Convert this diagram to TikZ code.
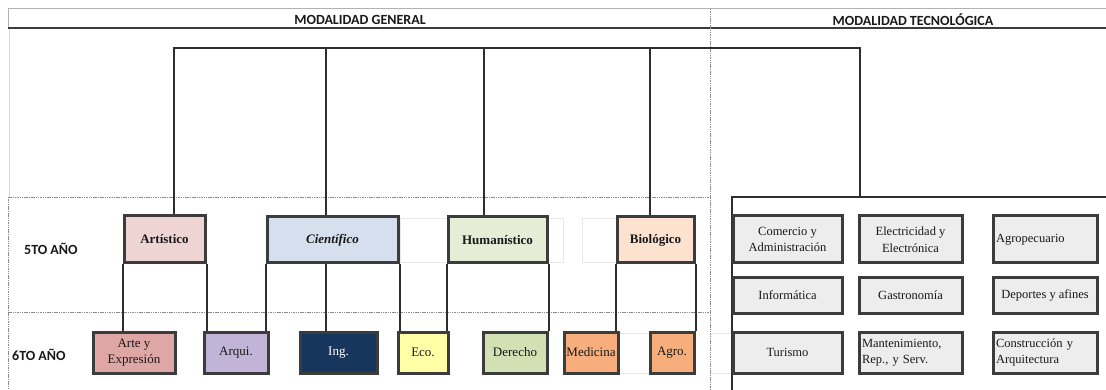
\documentclass[tikz,border=0pt]{standalone}
\usepackage{fontspec}
\setmainfont{Liberation Serif}
\newfontfamily\hdrfont{Carlito}
\definecolor{bordc}{HTML}{3C3C3C}
\definecolor{connc}{HTML}{2E2E2E}
\definecolor{cArt}{HTML}{EFD4D4}
\definecolor{cCie}{HTML}{D5DFEE}
\definecolor{cHum}{HTML}{E6EDD6}
\definecolor{cBio}{HTML}{FDE2D0}
\definecolor{cArte}{HTML}{DFA6A6}
\definecolor{cArq}{HTML}{C1B4D6}
\definecolor{cIng}{HTML}{17365D}
\definecolor{cEco}{HTML}{FFFFA8}
\definecolor{cDer}{HTML}{D3E0B3}
\definecolor{cMed}{HTML}{F6AF7C}
\definecolor{cTec}{HTML}{EDEDED}
\tikzset{
  boxg/.style={draw=bordc, line width=3pt, inner sep=0pt, align=center, text=black!90,
    font=\fontsize{13}{16.5}\selectfont},
  boxt/.style={draw=bordc, line width=3pt, inner sep=0pt, align=center, fill=cTec, text=black!90,
    font=\fontsize{12.5}{16.5}\selectfont},
  conn/.style={draw=connc, line width=2pt},
  topconn/.style={draw=connc, line width=2.4pt},
  faint/.style={draw=black!9, line width=0.6pt},
  grid/.style={draw=black!45, line width=0.7pt, dash pattern=on 1.5pt off 0.8pt},
  hdr/.style={font=\hdrfont\bfseries\fontsize{14}{16}\selectfont, text=black!90, inner sep=0pt},
  lbl/.style={font=\hdrfont\bfseries\fontsize{14}{16}\selectfont, text=black!90, anchor=west, inner sep=0pt}
}
\begin{document}
\begin{tikzpicture}[x=1pt,y=-1pt]
\useasboundingbox (0,0) rectangle (1106,390);
\fill[white] (0,0) rectangle (1106,390);

% header
\draw[draw=black!30, line width=1pt] (8,9) -- (1106,9);
\draw[draw=black!30, line width=1pt] (8,9) -- (8,28);
\draw[draw=black!15, line width=0.8pt] (9,28) -- (9,197);
\draw[draw=bordc, line width=2.6pt] (8,28) -- (1106,28);
\node[hdr] (hg) at (360,19.5) {MODALIDAD GENERAL};
\node[hdr] (ht) at (913,19.5) {MODALIDAD TECNOLÓGICA};

% grid lines
\draw[grid] (8,197) -- (710,197);
\draw[grid] (8,312) -- (710,312);
\draw[grid] (8,197) -- (8,390);
\draw[grid] (710.5,9) -- (710.5,390);

% faint cell outlines
\draw[faint] (400,218) rectangle (563,262);
\draw[faint] (582,218) rectangle (640,262);
\draw[faint] (564,333) rectangle (695,373);
\draw[faint] (712,333) -- (735,333);
\draw[faint] (712,373) -- (735,373);

% row labels
\node[lbl] (l5) at (24,249) {5TO AÑO};
\node[lbl] (l6) at (12,355) {6TO AÑO};

% 5to año boxes
\node[boxg, fill=cArt, minimum width=81pt, minimum height=47pt] (art) at (164.5,239.5) {\bfseries Artístico};
\node[boxg, fill=cCie, minimum width=131pt, minimum height=46pt] (cie) at (332.5,240) {\bfseries\itshape Científico};
\node[boxg, fill=cHum, minimum width=99pt, minimum height=46pt] (hum) at (497.5,240) {\bfseries Humanístico};
\node[boxg, fill=cBio, minimum width=77pt, minimum height=46pt] (bio) at (655.5,240) {\bfseries Biológico};

% 6to año boxes
\node[boxg, fill=cArte, minimum width=82pt, minimum height=41pt] (arte) at (134,352.5) {Arte y\\Expresión};
\node[boxg, fill=cArq, minimum width=64pt, minimum height=41pt] (arq) at (236,352.5) {Arqui.};
\node[boxg, fill=cIng, text=white, minimum width=77pt, minimum height=41pt] (ing) at (338.5,352.5) {Ing.};
\node[boxg, fill=cEco, minimum width=50pt, minimum height=41pt] (eco) at (423,352.5) {Eco.};
\node[boxg, fill=cDer, minimum width=64pt, minimum height=41pt] (der) at (515,352.5) {Derecho};
\node[boxg, fill=cMed, minimum width=54pt, minimum height=41pt] (med) at (591,352.5) {Medicina};
\node[boxg, fill=cMed, minimum width=44pt, minimum height=41pt] (agro) at (672,352.5) {Agro.};

% tree top
\coordinate (tA) at (174,48);
\coordinate (tC) at (326,48);
\coordinate (tH) at (484,48);
\coordinate (tB) at (650,48);
\coordinate (tT) at (859.5,48);
\draw[topconn] ([xshift=-1.2pt]tA) -- ([xshift=1.2pt]tT);
\draw[conn] (tA) -- (tA |- art.north);
\draw[conn] (tC) -- (tC |- cie.north);
\draw[conn] (tH) -- (tH |- hum.north);
\draw[conn] (tB) -- (tB |- bio.north);

% lower connectors
\draw[conn] (art.south west) -- (art.south west |- arte.north);
\draw[conn] (art.south east) -- (art.south east |- arq.north);
\draw[conn] (cie.south west) -- (cie.south west |- arq.north);
\draw[conn] (tC |- cie.south) -- (tC |- ing.north);
\draw[conn] (cie.south east) -- (cie.south east |- eco.north);
\draw[conn] (hum.south west) -- (hum.south west |- eco.north);
\draw[conn] (hum.south east) -- (hum.south east |- der.north);
\draw[conn] (bio.south west) -- (bio.south west |- med.north);
\draw[conn] (bio.south east) -- (bio.south east |- agro.north);

% technological section frame
\coordinate (tkc) at (732,197);
\coordinate (tkr) at (1106,197);
\coordinate (tkb) at (732,390);
\draw[conn] (tT) -- (tT |- tkc);
\draw[conn] (tkr) -- (tkc) -- (tkb);

% technological boxes
\node[boxt, minimum width=109pt, minimum height=47pt] (com) at (787.5,239.5) {Comercio y\\Administración};
\node[boxt, minimum width=103pt, minimum height=47pt] (ele) at (910.5,239.5) {Electricidad y\\Electrónica};
\node[boxt, minimum width=104pt, minimum height=47pt, text width=98pt, inner xsep=3pt, align=left] (agp) at (1045,239.5) {Agropecuario};
\node[boxt, minimum width=109pt, minimum height=36pt] (inf) at (787.5,295) {Informática};
\node[boxt, minimum width=103pt, minimum height=36pt] (gas) at (910.5,295) {Gastronomía};
\node[boxt, minimum width=104pt, minimum height=36pt] (dep) at (1045,295) {Deportes y afines};
\node[boxt, minimum width=109pt, minimum height=41pt] (tur) at (787.5,352.5) {Turismo};
\node[boxt, minimum width=103pt, minimum height=41pt, text width=97pt, inner xsep=3pt, align=left] (man) at (910.5,352.5) {Mantenimiento,\\Rep., y Serv.};
\node[boxt, minimum width=104pt, minimum height=41pt, text width=98pt, inner xsep=3pt, align=left] (con) at (1045,352.5) {Construcción y\\Arquitectura};
\end{tikzpicture}
\end{document}
